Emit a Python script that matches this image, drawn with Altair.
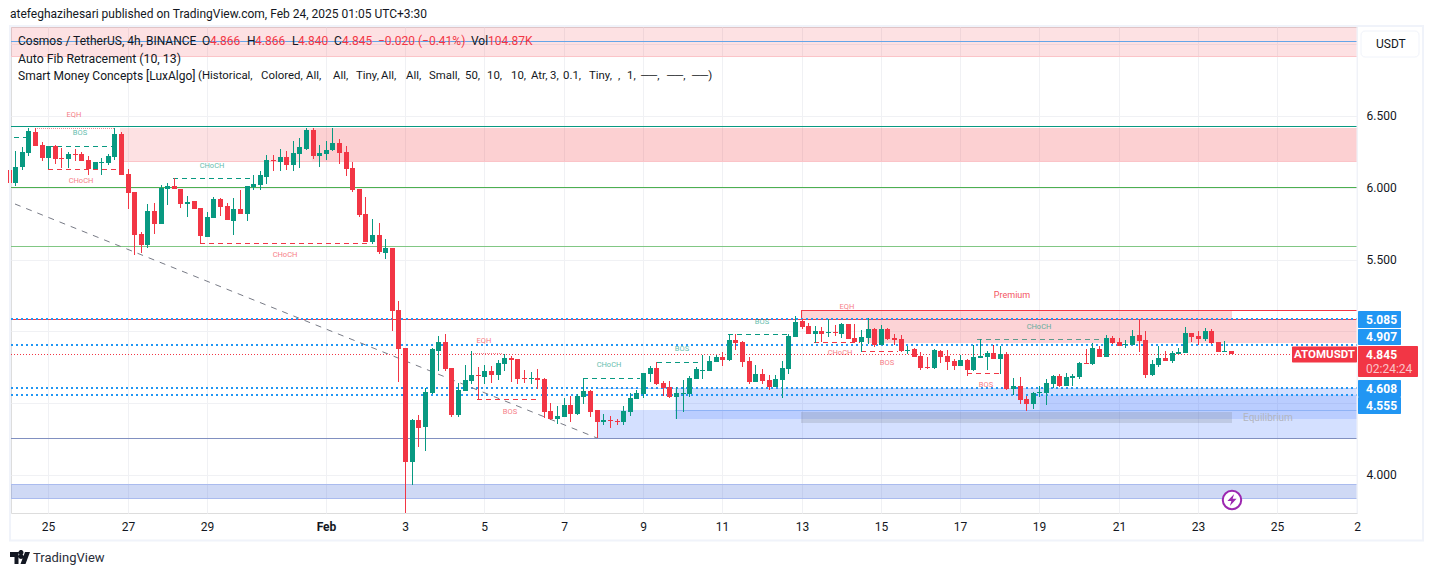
import altair as alt
import pandas as pd

GREEN = "#089981"
RED = "#f23645"
BLUE = "#2196f3"
INK = "#131722"
FONT = "Roboto"

opens = [6.124,6.036,6.145,6.242,6.389,6.298,6.208,6.293,6.208,6.201,6.235,6.235,6.194,6.129,6.175,6.173,6.215,6.375,6.096,5.971,
5.678,5.602,5.839,5.748,5.992,6.010,5.992,5.890,5.908,5.859,5.658,5.790,5.922,5.873,5.769,5.852,5.818,6.008,6.020,6.075,
6.194,6.180,6.215,6.159,6.235,6.270,6.403,6.222,6.235,6.263,6.312,6.249,6.138,5.992,5.818,5.623,5.671,5.546,
5.581,5.149,4.884,4.091,4.383,4.334,4.571,4.864,4.926,4.745,4.418,4.585,4.655,4.696,4.683,4.724,4.696,4.773,4.815,4.808,
4.676,4.669,4.676,4.669,4.446,4.390,4.404,4.488,4.425,4.543,4.585,4.453,4.372,4.383,4.376,4.369,4.439,4.529,4.564,4.703,4.745,4.641,
4.613,4.543,4.564,4.564,4.669,4.724,4.724,4.787,4.822,4.801,4.940,4.926,4.794,4.648,4.703,4.662,4.613,4.662,4.738,4.961,
5.072,5.038,4.982,5.003,4.989,4.996,4.982,5.052,4.954,4.926,4.954,5.017,4.905,5.017,4.954,4.947,4.864,4.878,4.829,4.752,
4.745,4.864,4.829,4.794,4.759,4.801,4.731,4.815,4.822,4.850,4.808,4.843,4.599,4.620,4.529,4.495,4.571,4.571,4.634,4.689,
4.620,4.678,4.683,4.780,4.773,4.877,4.822,4.954,4.926,4.905,4.905,4.975,4.940,4.696,4.766,4.815,4.794,4.843,4.850,4.989,
4.968,4.947,5.003,4.926,4.857,4.866]
closes = [6.036,6.145,6.249,6.396,6.291,6.208,6.291,6.201,6.203,6.235,6.231,6.187,6.131,6.180,6.180,6.222,6.375,6.089,5.964,5.671,
5.602,5.839,5.748,5.999,6.010,5.992,5.887,5.899,5.852,5.665,5.797,5.922,5.866,5.776,5.852,5.818,6.013,6.027,6.089,6.194,
6.187,6.215,6.159,6.242,6.284,6.403,6.222,6.242,6.263,6.312,6.242,6.131,5.985,5.811,5.623,5.671,5.553,5.581,
5.142,4.877,4.091,4.383,4.327,4.578,4.877,4.926,4.738,4.418,4.592,4.662,4.696,4.689,4.724,4.696,4.780,4.815,4.801,4.669,
4.669,4.676,4.662,4.439,4.390,4.411,4.488,4.425,4.550,4.585,4.439,4.369,4.383,4.376,4.369,4.446,4.536,4.571,4.710,4.745,4.634,4.606,
4.543,4.571,4.571,4.676,4.738,4.731,4.794,4.822,4.801,4.940,4.919,4.787,4.648,4.703,4.655,4.613,4.669,4.745,4.968,5.065,
5.031,4.982,5.003,4.982,4.996,4.989,5.052,4.947,4.926,4.961,5.017,4.905,5.017,4.947,4.940,4.864,4.871,4.822,4.745,4.745,
4.871,4.822,4.787,4.759,4.801,4.731,4.822,4.829,4.850,4.808,4.843,4.599,4.620,4.522,4.495,4.571,4.578,4.641,4.689,4.620,
4.683,4.689,4.780,4.775,4.884,4.822,4.954,4.919,4.898,4.912,4.968,4.933,4.696,4.773,4.815,4.794,4.850,4.857,4.989,4.961,
4.947,5.003,4.919,4.857,4.864,4.845]
highs = [6.124,6.256,6.284,6.417,6.417,6.319,6.291,6.298,6.275,6.249,6.270,6.249,6.222,6.180,6.208,6.235,6.417,6.389,6.129,5.971,
5.692,5.887,5.894,6.020,6.034,6.068,5.992,5.943,5.908,5.859,5.832,5.936,5.929,5.894,5.929,5.985,6.013,6.089,6.117,6.229,
6.229,6.270,6.256,6.326,6.347,6.417,6.417,6.298,6.326,6.417,6.340,6.291,6.180,5.992,5.936,5.783,5.755,5.644,
5.581,5.212,4.884,4.390,4.418,4.606,4.884,4.968,4.982,4.745,4.641,4.766,4.864,4.752,4.766,4.759,4.801,4.843,4.829,4.808,
4.731,4.717,4.738,4.676,4.501,4.481,4.536,4.550,4.564,4.676,4.592,4.453,4.425,4.411,4.390,4.481,4.571,4.592,4.710,4.759,4.787,4.655,
4.655,4.613,4.662,4.689,4.752,4.836,4.829,4.836,4.857,4.975,4.982,4.933,4.822,4.766,4.738,4.696,4.696,4.794,4.982,5.107,
5.086,5.059,5.038,5.031,5.086,5.045,5.059,5.052,5.052,5.010,5.093,5.024,5.045,5.024,4.982,4.975,4.898,4.885,4.857,4.822,
4.878,4.871,4.871,4.808,4.836,4.808,4.905,4.947,4.864,4.905,4.898,4.857,4.676,4.683,4.550,4.578,4.620,4.669,4.696,4.703,
4.710,4.703,4.787,4.877,4.917,4.898,4.975,4.968,4.954,4.940,5.010,5.086,5.003,4.801,4.898,4.864,4.864,4.885,5.031,4.989,
5.003,5.024,5.017,4.926,4.933,4.866]
lows = [6.036,6.013,6.124,6.222,6.291,6.187,6.129,6.166,6.136,6.136,6.187,6.187,6.089,6.129,6.089,6.159,6.194,6.089,5.852,5.532,
5.546,5.581,5.678,5.748,5.880,5.992,5.859,5.797,5.852,5.613,5.658,5.790,5.804,5.776,5.671,5.818,5.769,5.985,5.985,6.027,
6.117,6.117,6.124,6.117,6.138,6.263,6.201,6.145,6.194,6.256,6.166,6.082,5.971,5.797,5.623,5.609,5.539,5.504,
5.003,4.648,3.736,3.931,4.195,4.167,4.564,4.724,4.724,4.404,4.404,4.585,4.634,4.522,4.634,4.641,4.662,4.724,4.648,4.634,
4.641,4.634,4.599,4.397,4.383,4.355,4.404,4.369,4.418,4.495,4.404,4.258,4.348,4.327,4.348,4.348,4.411,4.529,4.536,4.648,4.627,4.550,
4.536,4.390,4.439,4.543,4.669,4.669,4.724,4.787,4.759,4.794,4.871,4.752,4.634,4.648,4.634,4.592,4.613,4.536,4.703,4.961,
5.017,4.982,4.919,4.926,4.961,4.968,4.954,4.947,4.926,4.857,4.912,4.891,4.905,4.940,4.905,4.857,4.843,4.822,4.731,4.738,
4.738,4.780,4.731,4.731,4.759,4.689,4.724,4.815,4.731,4.808,4.703,4.592,4.557,4.495,4.446,4.460,4.543,4.488,4.606,4.613,
4.620,4.620,4.669,4.775,4.766,4.822,4.822,4.912,4.898,4.885,4.905,4.857,4.676,4.689,4.752,4.794,4.780,4.843,4.850,4.926,
4.905,4.933,4.912,4.857,4.857,4.840]

first_bar = -6
bars_per_day = 6
first_tick_day = 25

LEFT_DAY, RIGHT_DAY = 24.06, 58.01
PRICE_LOW, PRICE_HIGH = 3.7354, 7.1198

# x tick days: January day numbers, running on past 31 into February
tick_days = [25, 27, 29, 32, 34, 36, 38, 40, 42, 44, 46, 48, 50, 52, 54, 56, 58]
grid_prices = [4.0, 4.5, 5.0, 5.5, 6.0, 6.5, 7.0]
shown_prices = [4.0, 5.5, 6.0, 6.5]

# horizontal levels
level_price = [6.427, 6.009, 5.598, 5.084, 7.019, 4.255]
level_color = [GREEN, "#4caf50", "#81c784", RED, "#64a5e8", "#8190c0"]
dotted_blue = [5.085, 4.907, 4.608, 4.555]
last_price = 4.845

# zones
zone_start = [24.06, 26.81, 31.65, 38.84, 40.80, 40.80, 50.01, 43.98, 45.65, 24.06]
zone_end =   [58.01, 58.01, 58.01, 58.01, 58.01, 58.01, 58.01, 54.85, 58.01, 58.01]
zone_top =   [7.120, 6.416, 6.416, 4.450, 4.609, 4.450, 4.555, 5.146, 5.084, 3.934]
zone_bot =   [6.918, 6.190, 6.190, 4.255, 4.450, 4.392, 4.450, 5.084, 4.916, 3.838]
zone_fill =  [RED, RED, RED, "#2962ff", "#2962ff", "#2962ff", "#2962ff", RED, RED, "#3f67d7"]
zone_alpha = [0.15, 0.15, 0.1, 0.2, 0.2, 0.15, 0.15, 0.22, 0.22, 0.25]

# structure lines
dash_start = [24.135, 25.00, 28.145, 38.49, 40.35, 42.14, 48.42, 25.00, 28.826, 35.82, 44.31, 45.49, 48.17]
dash_end =   [24.54, 26.657, 30.16, 39.92, 41.49, 43.65, 51.55, 26.76, 33.11, 37.33, 45.47, 46.43, 49.08]
dash_price = [6.354, 6.293, 6.068, 4.673, 4.785, 4.980, 4.945, 6.131, 5.616, 4.527, 4.924, 4.863, 4.708]
dash_color = [GREEN] * 6 + ["#5f9a8c"] + [RED] * 6
eq_start, eq_end, eq_price = [24.665, 35.66], [26.657, 36.47], [6.416, 4.851]
trend_day, trend_price = [24.15, 38.84], [5.887, 4.258]

# small labels
note_text = ["EQH", "BOS", "CHoCH", "CHoCH", "CHoCH", "EQH", "BOS", "CHoCH", "BOS", "BOS", "CHoCH", "BOS", "EQH", "CHoCH", "BOS"]
note_day = [25.65, 25.80, 25.82, 29.13, 30.97, 35.99, 36.64, 39.15, 40.98, 42.99, 44.97, 46.15, 45.14, 49.98, 48.64]
note_price = [6.507, 6.382, 6.047, 6.152, 5.532, 4.933, 4.441, 4.766, 4.878, 5.068, 4.850, 4.782, 5.172, 5.033, 4.627]
note_color = [RED, GREEN, RED, GREEN, RED, RED, RED, GREEN, GREEN, GREEN, RED, RED, RED, GREEN, RED]

header = "atefeghazihesari published on TradingView.com, Feb 24, 2025 01:05 UTC+3:30"
legend_dark = [("Cosmos / TetherUS, 4h, BINANCE", 18), ("O", 202), ("H", 247), ("L", 292), ("C", 334), ("Vol", 471)]
legend_red = [("4.866", 210), ("4.866", 255), ("4.840", 298), ("4.845", 342), ("−0.020 (−0.41%)", 378), ("104.87K", 488)]
line2 = "Auto Fib Retracement (10, 13)"
line3_head = "Smart Money Concepts [LuxAlgo]"
line3 = [("(Historical,", 198), ("Colored,", 261), ("All,", 306), ("All,", 333),
         ("Tiny,", 356), ("All,", 381), ("All,", 406), ("Small,", 429), ("50,", 465), ("10,", 487), ("10,", 511),
         ("Atr,", 531), ("3,", 550), ("0.1,", 563), ("Tiny,", 589), (",", 618), ("1,", 627), ("──,", 641), ("──,", 667),
         ("──)", 692)]

# ---------------------------------------------------------------- tables
n = len(opens)
candles = pd.DataFrame({
    "day": [first_tick_day + (first_bar + i) / bars_per_day for i in range(n)],
    "open": opens, "close": closes, "high": highs, "low": lows,
})
candles["dir"] = ["up" if c >= o else "down" for o, c in zip(opens, closes)]

x_scale = alt.Scale(domain=[LEFT_DAY, RIGHT_DAY], nice=False, zero=False, padding=0, round=True)
y_scale = alt.Scale(domain=[PRICE_LOW, PRICE_HIGH], nice=False, zero=False, padding=0, round=True)
x_axis = alt.Axis(values=tick_days, title=None, ticks=False, domain=False, grid=True, gridColor="#f0f1f4",
                  labelExpr="datum.value==32?'Feb':datum.value==58?'2':datum.value<=31?''+datum.value:''+(datum.value-31)",
                  labelFontSize=12, labelFont=FONT, labelColor=INK, labelPadding=8, labelFlush=False,
                  labelOverlap=False,
                  labelFontWeight={"condition": {"test": "datum.value==32", "value": "bold"}, "value": "normal"})
y_axis = alt.Axis(values=grid_prices, title=None, orient="right", ticks=False, domain=False, grid=True,
                  gridColor="#f0f1f4", labelFontSize=12, labelFont=FONT, labelColor=INK, labelPadding=9,
                  labelAlign="left", labelOverlap=False, labelOffset=-1,
                  labelExpr="indexof(%s,datum.value)>=0?format(datum.value,'.3f'):''" % str(shown_prices))
Xn = alt.X("day:Q", scale=x_scale, axis=x_axis)
X2 = alt.X2("end:Q")
Yn = alt.Y("price:Q", scale=y_scale, axis=y_axis)
COL = alt.Color("dir:N", scale=alt.Scale(domain=["up", "down"], range=[GREEN, RED]), legend=None)

layers = []

# zones
zones = pd.DataFrame({"day": zone_start, "end": zone_end, "price": zone_top, "bot": zone_bot,
                      "fill": zone_fill, "alpha": zone_alpha})
layers.append(alt.Chart(zones).mark_rect().encode(
    x=Xn, x2=X2, y=Yn, y2="bot:Q",
    fill=alt.Fill("fill:N", scale=None), opacity=alt.Opacity("alpha:Q", scale=None)))

# zone edges
edge_start = [24.06, 26.81, 38.84, 40.80, 24.06, 24.06, 43.98]
edge_end = [58.01, 58.01, 58.01, 58.01, 58.01, 58.01, 58.01]
edge_price = [6.918, 6.190, 4.609, 4.450, 3.934, 3.838, 5.146]
edge_color = ["#fbc4c8", "#fbc4c8", "#bcd0f8", "#8fb2f5", "#aabbee", "#aabbee", RED]
edges = pd.DataFrame({"day": edge_start, "end": edge_end, "price": edge_price, "c": edge_color})
layers.append(alt.Chart(edges).mark_rule(strokeWidth=1, yOffset=0.5).encode(
    x=Xn, x2=X2, y=Yn, color=alt.Color("c:N", scale=None)))
layers.append(alt.Chart(pd.DataFrame({"day": [43.98], "price": [5.146], "bot": [5.084]}))
              .mark_rule(color=RED, xOffset=0.5).encode(x=Xn, y=Yn, y2="bot:Q"))

# equilibrium block
layers.append(alt.Chart(pd.DataFrame({"day": [43.98], "end": [54.85], "price": [4.439], "bot": [4.364]}))
              .mark_rect(color="#787b86", opacity=0.22).encode(x=Xn, x2=X2, y=Yn, y2="bot:Q"))

# levels
levels = pd.DataFrame({"price": level_price, "c": level_color, "day": LEFT_DAY, "end": RIGHT_DAY})
layers.append(alt.Chart(levels).mark_rule(strokeWidth=1, yOffset=0.5).encode(
    x=Xn, x2=X2, y=Yn, color=alt.Color("c:N", scale=None)))
dots = pd.DataFrame({"price": dotted_blue, "day": LEFT_DAY, "end": RIGHT_DAY})
layers.append(alt.Chart(dots).mark_rule(strokeWidth=2, strokeDash=[2, 3], color=BLUE).encode(x=Xn, x2=X2, y=Yn))
layers.append(alt.Chart(pd.DataFrame({"price": [last_price], "day": [LEFT_DAY], "end": [RIGHT_DAY]}))
              .mark_rule(strokeWidth=1, strokeDash=[1, 2], color=RED, yOffset=0.5).encode(x=Xn, x2=X2, y=Yn))

# structure
dashes = pd.DataFrame({"day": dash_start, "end": dash_end, "price": dash_price, "c": dash_color})
layers.append(alt.Chart(dashes).mark_rule(strokeWidth=1, strokeDash=[5, 4], yOffset=0.5).encode(
    x=Xn, x2=X2, y=Yn, color=alt.Color("c:N", scale=None)))
layers.append(alt.Chart(pd.DataFrame({"day": eq_start, "end": eq_end, "price": eq_price}))
              .mark_rule(strokeWidth=1, strokeDash=[1, 1], color="#f58a94", yOffset=0.5).encode(x=Xn, x2=X2, y=Yn))
layers.append(alt.Chart(pd.DataFrame({"day": trend_day, "price": trend_price}))
              .mark_line(strokeWidth=1, strokeDash=[6, 6], color="#787b86").encode(x=Xn, y=Yn))

# candles
layers.append(alt.Chart(candles).mark_rule(strokeWidth=1, xOffset=0.5).encode(
    x=Xn, y=alt.Y("high:Q", scale=y_scale, axis=y_axis), y2="low:Q", color=COL))
layers.append(alt.Chart(candles).mark_bar(size=5, xOffset=0.5).encode(
    x=Xn, y=alt.Y("open:Q", scale=y_scale, axis=y_axis), y2="close:Q", color=COL))

# small labels
notes = pd.DataFrame({"day": note_day, "price": note_price, "t": note_text, "c": note_color})
layers.append(alt.Chart(notes).mark_text(fontSize=7.5, font=FONT, opacity=0.65).encode(
    x=Xn, y=Yn, text="t:N", color=alt.Color("c:N", scale=None)))
layers.append(alt.Chart(pd.DataFrame({"day": [49.30], "price": [5.253], "t": ["Premium"]}))
              .mark_text(fontSize=9, font=FONT, color=RED, opacity=0.85).encode(x=Xn, y=Yn, text="t:N"))
layers.append(alt.Chart(pd.DataFrame({"day": [55.76], "price": [4.397], "t": ["Equilibrium"]}))
              .mark_text(fontSize=10, font=FONT, color="#b2b5be").encode(x=Xn, y=Yn, text="t:N"))

# bolt marker
layers.append(alt.Chart(pd.DataFrame({"day": [54.85], "price": [3.826]}))
              .mark_point(filled=True, fill="white", stroke="#9c27b0", strokeWidth=2, size=340, opacity=1, shape="circle")
              .encode(x=Xn, y=Yn))
layers.append(alt.Chart(pd.DataFrame({"day": [54.85], "price": [3.826]}))
              .mark_point(filled=True, color="#9c27b0", size=150, opacity=1,
                          shape="M0.35,-1 L-0.75,0.15 L-0.1,0.15 L-0.35,1 L0.75,-0.2 L0.1,-0.2 Z")
              .encode(x=Xn, y=Yn))

OX, OY = 11, 27  # plot origin on the page

def box(x0, x1, y0, y1, **kw):
    return alt.Chart(pd.DataFrame({"a": [0]})).mark_rect(**kw).encode(
        x=alt.value(x0 - OX), x2=alt.value(x1 - OX), y=alt.value(y0 - OY), y2=alt.value(y1 - OY))

def txt(s, x, y, size=12, color=INK, align="left", **kw):
    return alt.Chart(pd.DataFrame({"a": [0]})).mark_text(
        text=s, fontSize=size, color=color, align=align, baseline="middle", font=FONT, **kw
    ).encode(x=alt.value(x - OX), y=alt.value(y - OY))

# frame
layers.append(box(10, 1423, 26, 540.5, fillOpacity=0, stroke="#f0f3fa", strokeWidth=2))
layers.append(alt.Chart(pd.DataFrame({"a": [0]})).mark_rule(color="#f0f3fa").encode(
    x=alt.value(1357 - OX), y=alt.value(26 - OY), y2=alt.value(513 - OY)))

# legend text
layers.append(txt(header, 10, 14, size=12))
for s, x in legend_dark:
    layers.append(txt(s, x, 41))
for s, x in legend_red:
    layers.append(txt(s, x, 41, color=RED))
layers.append(txt(line2, 18, 59, size=12.3))
layers.append(txt(line3_head, 18, 76))
for s, x in line3:
    layers.append(txt(s, x, 76, size=11.4))

# unit button
layers.append(box(1361, 1419, 31, 57, fillOpacity=0, stroke="#f0f3fa", strokeWidth=1, cornerRadius=4))
layers.append(txt("USDT", 1376, 44))

# price tags
tag_text = ["5.085", "4.907", "4.608", "4.555"]
tag_top = [311, 329, 380, 397]
tag_bot = [328, 345, 397, 414]
for s, t, b in zip(tag_text, tag_top, tag_bot):
    layers.append(box(1358, 1401, t, b, fill=BLUE, cornerRadius=1))
    layers.append(txt(s, 1366, (t + b) / 2, color="white", fontWeight="bold"))
layers.append(box(1358, 1418, 346, 377, fill=RED, cornerRadius=1))
layers.append(txt("4.845", 1366, 354.5, color="white", fontWeight="bold"))
layers.append(txt("02:24:24", 1366, 368.5, color="#fbc4c8"))
layers.append(box(1292, 1357, 346.5, 362.5, fill=RED, cornerRadius=1))
layers.append(txt("ATOMUSDT", 1324.5, 354.5, color="white", align="center", fontWeight="bold", size=11.5))

# brand
layers.append(alt.Chart(pd.DataFrame({"a": [0]})).mark_point(
    filled=True, color=INK, size=400, opacity=1,
    shape="M-1,-0.6 L-0.15,-0.6 L-0.15,0.6 L-0.55,0.6 L-0.55,-0.1 L-1,-0.1 Z M0.25,-0.35 A0.25,0.25 0 1 1 -0.05,-0.35 A0.25,0.25 0 1 1 0.25,-0.35 Z M0.5,-0.6 L1,-0.6 L0.55,0.6 L0.05,0.6 Z"
).encode(x=alt.value(20 - OX), y=alt.value(558 - OY)))
layers.append(txt("TradingView", 33, 558, size=13, color="#2a2e39"))

chart = alt.layer(*layers).resolve_scale(color="independent").properties(
    width=1346, height=486,
    padding={"left": 3, "top": 19, "right": 68, "bottom": 53},
    autosize=alt.AutoSizeParams(type="none"),
).configure_view(stroke=None).configure(background="white")

chart.save("out.html", embed_options={"renderer": "svg", "actions": False})
